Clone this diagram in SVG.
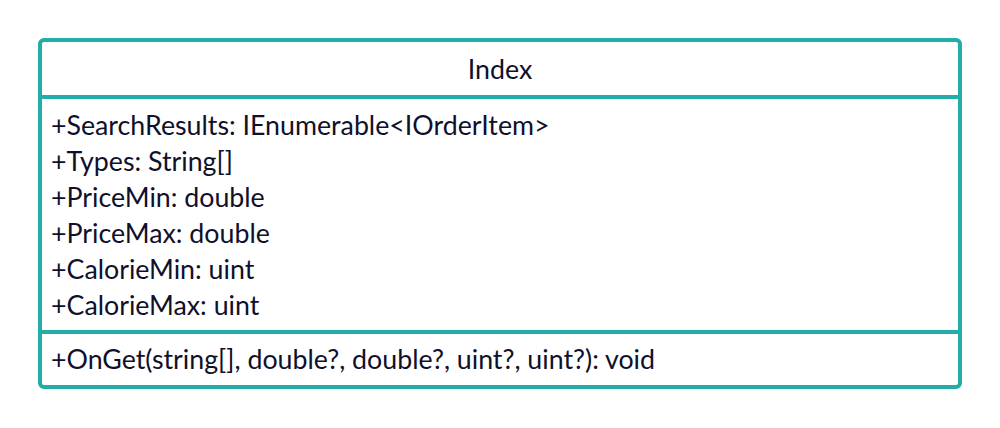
<svg xmlns="http://www.w3.org/2000/svg" width="1000" height="428" viewBox="0 0 1000 428">
  <style>
    .box { fill: #ffffff; stroke: #22ADA6; stroke-width: 4; }
    .sep { stroke: #22ADA6; stroke-width: 4; }
    text { font-family: Lato, "Open Sans", sans-serif; font-size: 26.75px; fill: #10102a; }
    .title { text-anchor: middle; }
  </style>
  <rect width="1000" height="428" fill="#ffffff"/>
  <g id="class-Index">
    <rect class="box" x="40" y="40" width="920" height="347" rx="4" ry="4"/>
    <line class="sep" x1="40" y1="97" x2="960" y2="97"/>
    <line class="sep" x1="40" y1="332" x2="960" y2="332"/>
    <text class="title" x="500" y="79">Index</text>
    <g id="attributes">
      <text x="51" y="135">+SearchResults: IEnumerable&lt;IOrderItem&gt;</text>
      <text x="51" y="171">+Types: String[]</text>
      <text x="51" y="207">+PriceMin: double</text>
      <text x="51" y="243">+PriceMax: double</text>
      <text x="51" y="279">+CalorieMin: uint</text>
      <text x="51" y="315">+CalorieMax: uint</text>
    </g>
    <g id="operations">
      <text x="51" y="369">+OnGet(string[], double?, double?, uint?, uint?): void</text>
    </g>
  </g>
  <g id="connectors"/>
</svg>
